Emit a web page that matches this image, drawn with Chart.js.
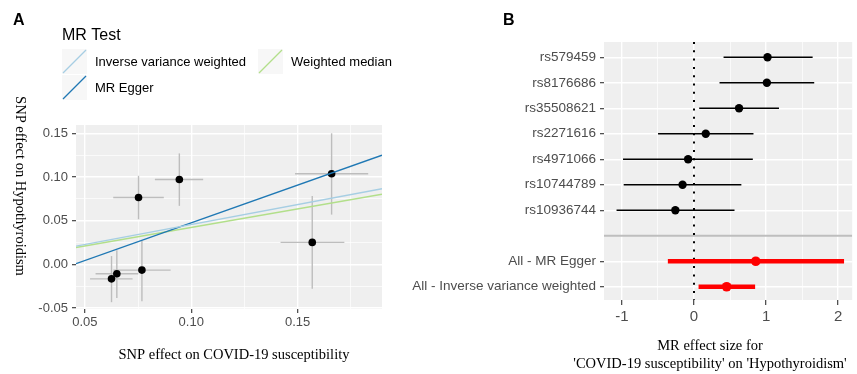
<!DOCTYPE html>
<html>
<head>
<meta charset="utf-8">
<script src="https://cdn.jsdelivr.net/npm/chart.js@4.4.1/dist/chart.umd.min.js"></script>
<style>
  html, body { margin: 0; padding: 0; background: #fff; }
  #wrap { position: relative; width: 857px; height: 374px; overflow: hidden; }
  canvas { position: absolute; top: 0; }
  #scatterChart { left: 0; }
  #forestChart { left: 400px; }
</style>
</head>
<body>
<div id="wrap">
  <canvas id="scatterChart" width="430" height="374"></canvas>
  <canvas id="forestChart" width="457" height="374"></canvas>
</div>
<script>
// ---- Panel A data: SNP effects (COVID-19 susceptibility vs Hypothyroidism)
const snpX   = [0.0625, 0.0650, 0.0768, 0.0752, 0.0944, 0.1569, 0.1660];
const snpXLo = [0.0524, 0.0550, 0.0633, 0.0633, 0.0829, 0.1420, 0.1488];
const snpXHi = [0.0724, 0.0751, 0.0903, 0.0871, 0.1056, 0.1720, 0.1832];
const snpY   = [-0.0165, -0.0107, -0.0065, 0.0765, 0.0972, 0.0252, 0.1037];
const snpYLo = [-0.0432, -0.0383, -0.0421, 0.0516, 0.0670, -0.0279, 0.0570];
const snpYHi = [0.0096, 0.0161, 0.0275, 0.1014, 0.1270, 0.0784, 0.1500];

// MR method fits (slope, intercept)
const methodNames = ['Inverse variance weighted', 'MR Egger', 'Weighted median'];
const methodSlopes = [0.456, 0.863, 0.423];
const methodIntercepts = [0, -0.0387, 0];

const xMajorA = [0.05, 0.10, 0.15];
const xMinorA = [0.075, 0.125, 0.175];
const xLabelsA = ['0.05', '0.10', '0.15'];
const yMajorA = [-0.05, 0.00, 0.05, 0.10, 0.15];
const yMinorA = [-0.025, 0.025, 0.075, 0.125];
const yLabelsA = ['-0.05', '0.00', '0.05', '0.10', '0.15'];

// ---- Panel B data: per-SNP MR estimates
const snpNames = ['rs579459', 'rs8176686', 'rs35508621', 'rs2271616', 'rs4971066', 'rs10744789', 'rs10936744'];
const snpEst = [1.020, 1.011, 0.625, 0.163, -0.082, -0.159, -0.259];
const snpLo  = [0.410, 0.354, 0.072, -0.499, -0.985, -0.976, -1.075];
const snpHi  = [1.646, 1.668, 1.179, 0.825, 0.816, 0.657, 0.562];
const allNames = ['All - MR Egger', 'All - Inverse variance weighted'];
const allEst = [0.857, 0.453];
const allLo  = [-0.363, 0.063];
const allHi  = [2.082, 0.848];

const xMajorB = [-1, 0, 1, 2];
const xMinorB = [-0.5, 0.5, 1.5];
const xLabelsB = ['-1', '0', '1', '2'];

// ---- styling
const SANS = "'Liberation Sans', Arial, sans-serif";
const SERIF = "'Liberation Serif', 'Times New Roman', serif";
const PANEL_BG = '#efefef';
const TICK_TEXT = '#4d4d4d';
const methodColors = ['#a6cee3', '#1f78b4', '#b2df8a'];

const xRangeA = [0.0458, 0.1897];
const yRangeA = [-0.051, 0.1595];
const xRangeB = [-1.249, 2.195];
const yRangeB = [0.4, 10.52];

function segment(points, color, width, order, extra) {
    return Object.assign({
        data: points,
        showLine: true,
        borderColor: color,
        borderWidth: width,
        pointRadius: 0,
        pointHoverRadius: 0,
        fill: false,
        order: order
    }, extra || {});
}

function setTicks(values) {
    return function(scale) {
        scale.ticks = values.slice().sort((a, b) => a - b).map(v => ({ value: v }));
    };
}

function gridOpts(majors) {
    return {
        color: '#ffffff',
        lineWidth: ctx => majors.includes(ctx.tick.value) ? 1.4 : 0.7,
        tickColor: ctx => majors.includes(ctx.tick.value) ? '#333333' : 'rgba(0,0,0,0)',
        tickLength: 4,
        tickWidth: 1.1
    };
}

const panelBg = {
    id: 'panelBg',
    beforeDraw(chart) {
        const { ctx, chartArea: a } = chart;
        ctx.save();
        ctx.fillStyle = PANEL_BG;
        ctx.fillRect(a.left, a.top, a.right - a.left, a.bottom - a.top);
        ctx.restore();
    }
};

// ---- Panel A annotations: tag, legend, axis titles
const annotateA = {
    id: 'annotateA',
    afterDraw(chart) {
        const ctx = chart.ctx;
        ctx.save();
        ctx.fillStyle = '#000';
        ctx.font = 'bold 16px ' + SANS;
        ctx.textBaseline = 'alphabetic';
        ctx.fillText('A', 13, 25);

        ctx.font = '16px ' + SANS;
        ctx.fillText('MR Test', 62, 40);

        const keys = [
            { x: 62, y: 49, tx: 95 },
            { x: 62, y: 75, tx: 95 },
            { x: 258, y: 49, tx: 291 }
        ];
        ctx.font = '13px ' + SANS;
        ctx.textBaseline = 'middle';
        methodNames.forEach((name, i) => {
            const k = keys[i];
            ctx.fillStyle = '#f7f7f7';
            ctx.fillRect(k.x, k.y, 25, 25);
            ctx.strokeStyle = methodColors[i];
            ctx.lineWidth = 1.3;
            ctx.beginPath();
            ctx.moveTo(k.x + 1, k.y + 24);
            ctx.lineTo(k.x + 24, k.y + 1);
            ctx.stroke();
            ctx.fillStyle = '#000';
            ctx.fillText(name, k.tx, k.y + 13);
        });

        ctx.font = '14.5px ' + SERIF;
        ctx.textAlign = 'center';
        ctx.fillText('SNP effect on COVID-19 susceptibility', 234, 355);
        ctx.translate(20, 186);
        ctx.rotate(Math.PI / 2);
        ctx.fillText('SNP effect on Hypothyroidism', 0, 0);
        ctx.restore();
    }
};

const errorSets = [];
snpX.forEach((x, i) => {
    errorSets.push(segment([{ x: snpXLo[i], y: snpY[i] }, { x: snpXHi[i], y: snpY[i] }], '#bdbdbd', 1.4, 3));
    errorSets.push(segment([{ x: x, y: snpYLo[i] }, { x: x, y: snpYHi[i] }], '#bdbdbd', 1.4, 3));
});

const fitSets = methodNames.map((name, i) => segment(
    xRangeA.map(x => ({ x: x, y: methodIntercepts[i] + methodSlopes[i] * x })),
    methodColors[i], 1.4, 1, { label: name }));

new Chart(document.getElementById('scatterChart'), {
    type: 'scatter',
    data: {
        datasets: errorSets.concat(fitSets, [{
            label: 'SNPs',
            data: snpX.map((x, i) => ({ x: x, y: snpY[i] })),
            backgroundColor: '#000',
            borderWidth: 0,
            pointRadius: 3.8,
            order: 2
        }])
    },
    options: {
        responsive: false,
        animation: false,
        layout: { padding: { left: 0, right: 48, top: 125, bottom: 0 } },
        plugins: { legend: { display: false }, tooltip: { enabled: false } },
        scales: {
            x: {
                type: 'linear',
                min: xRangeA[0],
                max: xRangeA[1],
                afterBuildTicks: setTicks(xMajorA.concat(xMinorA)),
                afterFit: scale => { scale.height = 65; },
                ticks: {
                    autoSkip: false,
                    maxRotation: 0,
                    padding: 2,
                    color: TICK_TEXT,
                    font: { family: SANS, size: 13 },
                    callback: v => { const k = xMajorA.indexOf(v); return k >= 0 ? xLabelsA[k] : ''; }
                },
                grid: gridOpts(xMajorA),
                border: { display: false }
            },
            y: {
                type: 'linear',
                min: yRangeA[0],
                max: yRangeA[1],
                afterBuildTicks: setTicks(yMajorA.concat(yMinorA)),
                afterFit: scale => { scale.width = 76; },
                ticks: {
                    autoSkip: false,
                    padding: 4,
                    color: TICK_TEXT,
                    font: { family: SANS, size: 13 },
                    callback: v => { const k = yMajorA.indexOf(v); return k >= 0 ? yLabelsA[k] : ''; }
                },
                grid: gridOpts(yMajorA),
                border: { display: false }
            }
        }
    },
    plugins: [panelBg, annotateA]
});

// ---- Panel B: forest plot
const rowNames = snpNames.concat([''], allNames);
const rowPos = rowNames.map((n, i) => i + 1);
const labelPos = rowPos.filter((p, i) => rowNames[i] !== '');
const blankPos = rowPos[rowNames.indexOf('')];

const ciSets = [];
snpNames.forEach((n, i) => {
    ciSets.push(segment([{ x: snpLo[i], y: rowPos[i] }, { x: snpHi[i], y: rowPos[i] }], '#000', 1.5, 3));
});
allNames.forEach((n, i) => {
    const p = rowPos[snpNames.length + 1 + i];
    ciSets.push(segment([{ x: allLo[i], y: p }, { x: allHi[i], y: p }], '#ff0000', 4.5, 3));
});

const annotateB = {
    id: 'annotateB',
    afterDraw(chart) {
        const ctx = chart.ctx;
        ctx.save();
        ctx.fillStyle = '#000';
        ctx.font = 'bold 16px ' + SANS;
        ctx.fillText('B', 103, 25);
        ctx.font = '14.5px ' + SERIF;
        ctx.textAlign = 'center';
        ctx.textBaseline = 'middle';
        ctx.fillText('MR effect size for', 310, 346);
        ctx.fillText("'COVID-19 susceptibility' on 'Hypothyroidism'", 310, 364);
        ctx.restore();
    }
};

new Chart(document.getElementById('forestChart'), {
    type: 'scatter',
    data: {
        datasets: ciSets.concat([
            segment([{ x: 0, y: yRangeB[0] }, { x: 0, y: yRangeB[1] }], '#000', 2, 4, { borderDash: [2, 6.3] }),
            segment([{ x: xRangeB[0], y: blankPos }, { x: xRangeB[1], y: blankPos }], '#bebebe', 2, 4),
            {
                label: 'SNP estimates',
                data: snpEst.map((v, i) => ({ x: v, y: rowPos[i] })),
                backgroundColor: '#000',
                borderWidth: 0,
                pointRadius: 4.2,
                order: 1
            },
            {
                label: 'Combined estimates',
                data: allEst.map((v, i) => ({ x: v, y: rowPos[snpNames.length + 1 + i] })),
                backgroundColor: '#ff0000',
                borderWidth: 0,
                pointRadius: 4.8,
                order: 1
            }
        ])
    },
    options: {
        responsive: false,
        animation: false,
        layout: { padding: { left: 0, right: 0, top: 42, bottom: 0 } },
        plugins: { legend: { display: false }, tooltip: { enabled: false } },
        scales: {
            x: {
                type: 'linear',
                min: xRangeB[0],
                max: xRangeB[1],
                afterBuildTicks: setTicks(xMajorB.concat(xMinorB)),
                afterFit: scale => { scale.height = 74; },
                ticks: {
                    autoSkip: false,
                    maxRotation: 0,
                    padding: 3,
                    color: TICK_TEXT,
                    font: { family: SANS, size: 15 },
                    callback: v => { const k = xMajorB.indexOf(v); return k >= 0 ? xLabelsB[k] : ''; }
                },
                grid: Object.assign(gridOpts(xMajorB), { tickLength: 5 }),
                border: { display: false }
            },
            y: {
                type: 'linear',
                reverse: true,
                min: yRangeB[0],
                max: yRangeB[1],
                afterBuildTicks: setTicks(labelPos),
                afterFit: scale => { scale.width = 204; },
                ticks: {
                    autoSkip: false,
                    padding: 4,
                    color: TICK_TEXT,
                    font: { family: SANS, size: 13.5 },
                    callback: v => rowNames[v - 1]
                },
                grid: gridOpts(labelPos),
                border: { display: false }
            }
        }
    },
    plugins: [panelBg, annotateB]
});
</script>
</body>
</html>
